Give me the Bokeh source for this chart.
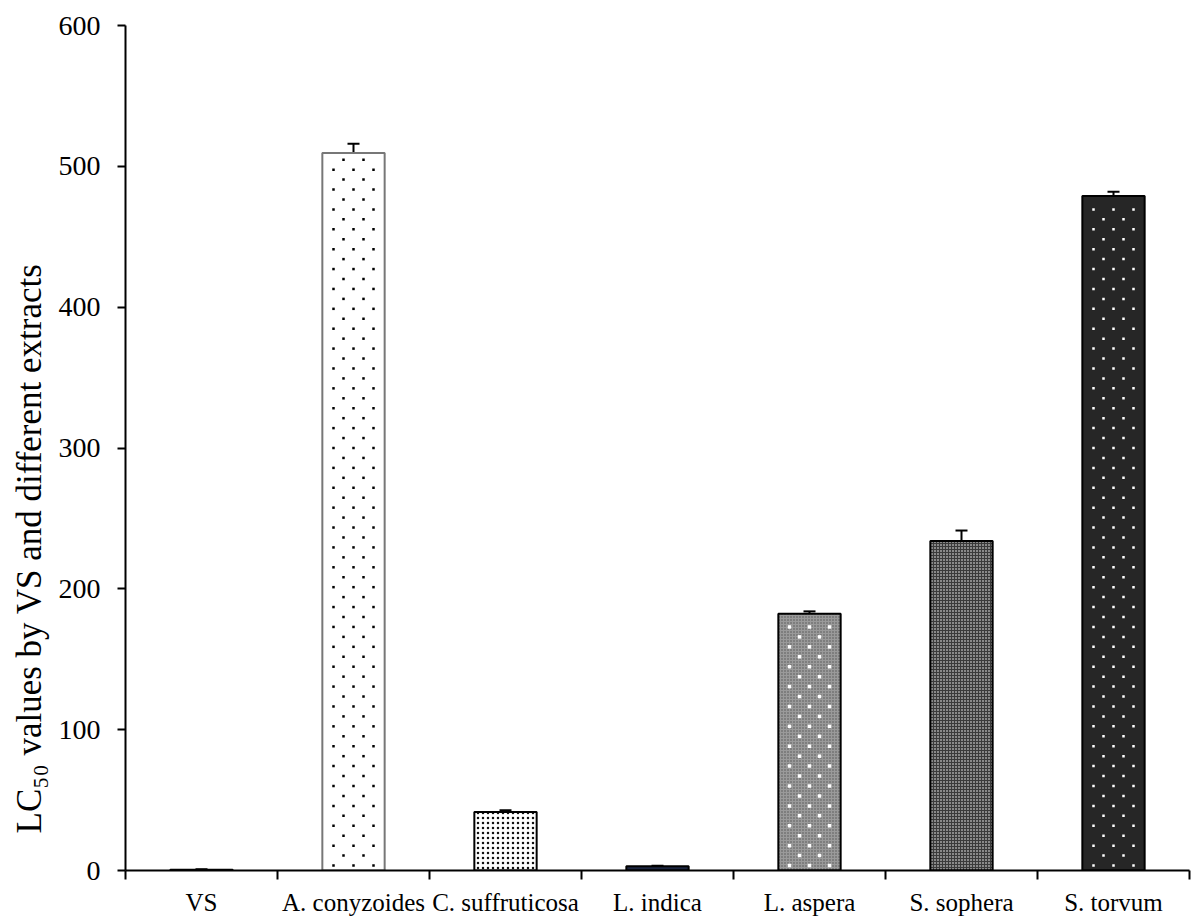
import math
from bokeh.plotting import figure
from bokeh.models import Range1d, FixedTicker, Title, Whisker, TeeHead, ColumnDataSource
from bokeh.embed import file_html
from bokeh.resources import INLINE

categories = ["VS", "A. conyzoides", "C. suffruticosa", "L. indica", "L. aspera", "S. sophera", "S. torvum"]
values = [0.6, 509.5, 41.6, 3.0, 182.3, 234.0, 479.0]
errors = [0.2, 6.5, 1.2, 0.4, 1.7, 7.4, 3.0]
y_ticks = [0, 100, 200, 300, 400, 500, 600]

# bar styles
fills = ["#000000", "#ffffff", "#ffffff", "#1c2640", "#9a9a9a", "#3a3a3a", "#262626"]
outlines = ["#000000", "#777777", "#000000", "#000000", "#000000", "#000000", "#000000"]
hatches = ["blank", "blank", "dot", "blank", "dot", "dot", "blank"]
hatch_colors = ["#000000", "#000000", "#111111", "#000000", "#555555", "#ffffff", "#ffffff"]
hatch_scales = [6, 6, 5, 6, 3, 3, 6]
# staggered sparse dots drawn over some bars (None = no overlay)
dot_colors = [None, "#000000", None, None, "#ffffff", None, "#ffffff"]
dot_sizes = [0, 2.5, 0, 0, 3.5, 0, 2.5]

n = len(categories)
xs = [i + 0.5 for i in range(n)]
tops = [v + e for v, e in zip(values, errors)]
BAR_W = 0.41

FONT = "Liberation Serif"
FRAME_W, FRAME_H = 1064, 850

p = figure(width=1196, height=918, output_backend="svg", toolbar_location=None,
           x_range=Range1d(0, n), y_range=Range1d(0, 600),
           min_border_left=125, min_border_right=7, min_border_top=25, min_border_bottom=43)
p.outline_line_color = None
p.xgrid.visible = False
p.ygrid.visible = False
p.background_fill_color = "white"
p.border_fill_color = "white"

px_x = n / FRAME_W          # data units per pixel (x)
px_y = 600.0 / FRAME_H      # data units per pixel (y)

for i in range(n):
    src = ColumnDataSource(dict(x=[xs[i]], top=[values[i]]))
    p.vbar(x="x", top="top", bottom=0, width=BAR_W, source=src,
           fill_color=fills[i], line_color=None,
           hatch_pattern=hatches[i], hatch_color=hatch_colors[i],
           hatch_scale=hatch_scales[i], hatch_weight=1)
    if dot_colors[i] is not None:
        dx, dy = [], []
        h_px = values[i] / px_y
        k = 0
        yp = 5.0
        while yp < h_px - 4:
            offs = [-20, 0, 20] if k % 2 == 0 else [-10, 10]
            for o in offs:
                dx.append(xs[i] + o * px_x)
                dy.append(yp * px_y)
            k += 1
            yp += 10.0
        p.scatter(dx, dy, marker="square", size=dot_sizes[i], fill_color=dot_colors[i],
                  line_color=None)
    p.vbar(x="x", top="top", bottom=0, width=BAR_W, source=src,
           fill_color=None, line_color=outlines[i], line_width=2)

err_src = ColumnDataSource(dict(x=xs, lower=values, upper=tops))
w = Whisker(base="x", lower="lower", upper="upper", source=err_src,
            line_color="black", line_width=2,
            upper_head=TeeHead(size=12, line_width=2, line_color="black"),
            lower_head=None)
p.add_layout(w)

# x axis
xa = p.xaxis[0]
xa.ticker = FixedTicker(ticks=xs, minor_ticks=list(range(n + 1)))
xa.major_label_overrides = {x: c for x, c in zip(xs, categories)}
xa.major_tick_out = 0
xa.major_tick_in = 0
xa.minor_tick_out = 9
xa.minor_tick_in = 0
xa.minor_tick_line_color = "black"
xa.minor_tick_line_width = 2
xa.axis_line_width = 2
xa.axis_line_color = "black"
xa.major_label_text_font = FONT
xa.major_label_text_font_size = "25px"
xa.major_label_text_color = "black"
xa.major_label_standoff = 9

# y axis
ya = p.yaxis[0]
ya.ticker = FixedTicker(ticks=y_ticks, minor_ticks=[])
ya.major_tick_out = 8
ya.major_tick_in = 0
ya.major_tick_line_width = 2
ya.major_tick_line_color = "black"
ya.axis_line_width = 2
ya.axis_line_color = "black"
ya.major_label_text_font = FONT
ya.major_label_text_font_size = "28px"
ya.major_label_text_color = "black"
ya.major_label_standoff = 17

t = Title(text="LC\u2085\u2080 values by VS and different extracts", align="left", offset=37,
          text_font=FONT, text_font_size="35px", text_color="black", text_font_style="normal",
          text_line_height=0.8, standoff=14)
p.add_layout(t, "left")

open("out.html", "w").write(file_html(p, INLINE))
